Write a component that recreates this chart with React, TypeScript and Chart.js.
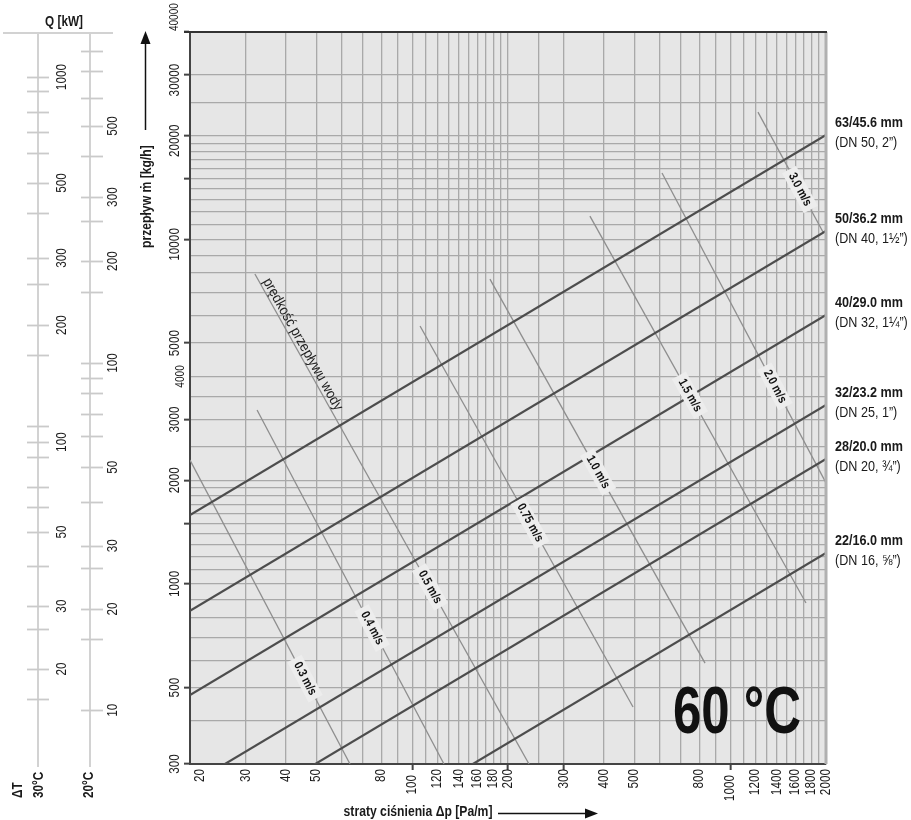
import React, { useEffect, useRef } from "react";
import { Chart, registerables } from "chart.js";
Chart.register(...registerables);

// ---- axis grid / tick data ----
const xGridValues = [20, 30, 40, 50, 60, 70, 80, 90, 100, 110, 120, 130, 140, 150, 160, 170, 180, 190, 200, 250, 300, 400, 500, 600, 700, 800, 900, 1000, 1100, 1200, 1300, 1400, 1500, 1600, 1700, 1800, 1900, 2000];
const xTickLabels = [20, 30, 40, 50, 80, 100, 120, 140, 160, 180, 200, 300, 400, 500, 800, 1000, 1200, 1400, 1600, 1800, 2000];
const xTickMarks = [100, 200, 300, 1000];
const yGridValues = [300, 400, 500, 600, 700, 800, 900, 1000, 1100, 1200, 1300, 1400, 1500, 1600, 1700, 1800, 1900, 2000, 2500, 3000, 3500, 4000, 5000, 6000, 7000, 8000, 9000, 10000, 11000, 12000, 13000, 14000, 15000, 16000, 17000, 18000, 19000, 20000, 25000, 30000, 40000];
const yTickLabels = [300, 500, 1000, 2000, 3000, 4000, 5000, 10000, 20000, 30000, 40000];
const yTickMarks = [300, 500, 1000, 1500, 2000, 3000, 5000, 10000, 15000, 20000, 30000, 40000];

// ---- pipe lines (flow in kg/h at 20 Pa/m and at 2000 Pa/m) ----
const pipeNames = ["63/45.6 mm", "50/36.2 mm", "40/29.0 mm", "32/23.2 mm", "28/20.0 mm", "22/16.0 mm"];
const pipeSizes = ["(DN 50, 2\u201D)", "(DN 40, 1\u00BD\u201D)", "(DN 32, 1\u00BC\u201D)", "(DN 25, 1\u201D)", "(DN 20, \u00BE\u201D)", "(DN 16, \u215D\u201D)"];
const pipeFlowAt20 = [1585, 835, 476, 261, 182, 97];
const pipeFlowAt2000 = [20085, 10578, 6033, 3306, 2304, 1229];

// ---- water velocity lines ----
const velNames = ["0.3 m/s", "0.4 m/s", "0.5 m/s", "0.75 m/s", "1.0 m/s", "1.5 m/s", "2.0 m/s", "3.0 m/s"];
const velStartDp = [20, 32.5, 32.0, 105.8, 175.5, 362, 610, 1222];
const velStartFlow = [2288, 3197, 7935, 5604, 7671, 11688, 15582, 23420];
const velEndDp = [63.7, 125.8, 232.8, 494.6, 833, 1730, 2000, 1957];
const velEndFlow = [300, 300, 300, 439, 589, 880, 1963, 10505];
const velLabelDp = [46, 74.8, 113.7, 234.6, 383.8, 747, 1382, 1656];

// ---- heat output scales (Q in kW and matching flow in kg/h) ----
const q30Values = [1000, 900, 800, 700, 600, 500, 400, 300, 250, 200, 150, 110, 100, 90, 70, 60, 50, 40, 30, 25, 20, 15];
const q30Flow = [29600, 26960, 23420, 20500, 17810, 14580, 11930, 8830, 7420, 5640, 4620, 2870, 2580, 2335, 1910, 1670, 1415, 1127, 862, 740, 566, 463];
const q30Labels = [1000, 500, 300, 200, 100, 50, 30, 20];
const q20Values = [800, 700, 600, 500, 400, 300, 250, 200, 150, 100, 90, 80, 70, 60, 50, 40, 30, 25, 20, 15, 10];
const q20Flow = [35220, 30810, 25730, 21340, 17460, 13270, 11310, 8650, 7030, 4380, 3960, 3580, 3110, 2690, 2180, 1730, 1290, 1110, 845, 690, 430];
const q20Labels = [500, 300, 200, 100, 50, 30, 20, 10];

const FONT = '"Liberation Sans", Arial, sans-serif';

type TOpts = { size: number; bold?: boolean; align?: CanvasTextAlign; baseline?: CanvasTextBaseline; rot?: number; sq?: number; color?: string };
function drawText(ctx: CanvasRenderingContext2D, s: string, x: number, y: number, o: TOpts) {
  ctx.save();
  ctx.translate(x, y);
  if (o.rot) ctx.rotate(o.rot);
  ctx.scale(o.sq ?? 0.84, 1);
  ctx.font = `${o.bold ? "bold " : ""}${o.size}px ${FONT}`;
  ctx.textAlign = o.align ?? "left";
  ctx.textBaseline = o.baseline ?? "middle";
  ctx.fillStyle = o.color ?? "#1a1a1a";
  ctx.fillText(s, 0, 0);
  ctx.restore();
}
function textWidth(ctx: CanvasRenderingContext2D, s: string, size: number, bold: boolean, sq: number) {
  ctx.save();
  ctx.font = `${bold ? "bold " : ""}${size}px ${FONT}`;
  const w = ctx.measureText(s).width * sq;
  ctx.restore();
  return w;
}

const decor = {
  id: "decor",
  beforeDraw(chart: any) {
    const { ctx, chartArea: a } = chart;
    ctx.save();
    ctx.fillStyle = "#e6e6e6";
    ctx.fillRect(a.left, a.top, a.right - a.left, a.bottom - a.top);
    ctx.restore();
  },
  afterDatasetsDraw(chart: any) {
    const { ctx } = chart;
    const xs = chart.scales.x, ys = chart.scales.y;
    velNames.forEach((name, i) => {
      const x1 = xs.getPixelForValue(velStartDp[i]), y1 = ys.getPixelForValue(velStartFlow[i]);
      const x2 = xs.getPixelForValue(velEndDp[i]), y2 = ys.getPixelForValue(velEndFlow[i]);
      const lx = xs.getPixelForValue(velLabelDp[i]);
      const t = (lx - x1) / (x2 - x1);
      const ly = y1 + t * (y2 - y1);
      const ang = Math.atan2(y2 - y1, x2 - x1);
      const w = textWidth(ctx, name, 12.5, true, 0.84);
      ctx.save();
      ctx.translate(lx, ly);
      ctx.rotate(ang);
      ctx.fillStyle = "#ededed";
      ctx.fillRect(-w / 2 - 5, -8, w + 10, 16);
      ctx.restore();
      drawText(ctx, name, lx, ly, { size: 12.5, bold: true, align: "center", rot: ang, color: "#111" });
      if (i === 2) {
        const d = 10;
        const px = x1 + Math.cos(ang) * d, py = y1 + Math.sin(ang) * d;
        drawText(ctx, "prędkość przepływu wody", px, py, { size: 14.5, align: "left", baseline: "bottom", rot: ang, sq: 0.9, color: "#222" });
      }
    });
  },
  afterDraw(chart: any) {
    const { ctx, chartArea: a } = chart;
    const xs = chart.scales.x, ys = chart.scales.y;
    ctx.save();
    ctx.strokeStyle = "#b0b0b0";
    ctx.lineWidth = 3;
    ctx.beginPath(); ctx.moveTo(a.right, a.top); ctx.lineTo(a.right, a.bottom); ctx.stroke();
    ctx.strokeStyle = "#333";
    ctx.lineWidth = 2;
    ctx.beginPath(); ctx.moveTo(a.left - 6, a.top); ctx.lineTo(a.right + 1, a.top); ctx.stroke();
    ctx.restore();

    yTickLabels.forEach((v) => {
      const y = ys.getPixelForValue(v);
      if (v === 40000) drawText(ctx, String(v), 175, y - 1, { size: 12.5, align: "left", rot: -Math.PI / 2, sq: 0.8 });
      else if (v === 4000) drawText(ctx, String(v), 181, y, { size: 12, align: "center", rot: -Math.PI / 2 });
      else drawText(ctx, String(v), 175, y + (v >= 10000 ? 5 : 0), { size: 14, align: "center", rot: -Math.PI / 2 });
    });
    xTickLabels.forEach((v) => {
      let x = xs.getPixelForValue(v);
      if (v === 20) x += 10;
      const y = v === 100 || v === 1000 ? a.bottom + 11 : a.bottom + 5;
      drawText(ctx, String(v), x, y, { size: 14, align: "right", rot: -Math.PI / 2 });
    });

    drawText(ctx, "straty ciśnienia Δp [Pa/m]", 418, 812, { size: 14.5, bold: true, align: "center" });
    ctx.save();
    ctx.strokeStyle = "#111"; ctx.fillStyle = "#111"; ctx.lineWidth = 1.5;
    ctx.beginPath(); ctx.moveTo(498, 813.5); ctx.lineTo(588, 813.5); ctx.stroke();
    ctx.beginPath(); ctx.moveTo(598, 813.5); ctx.lineTo(585, 808.5); ctx.lineTo(585, 818.5); ctx.closePath(); ctx.fill();
    ctx.beginPath(); ctx.moveTo(145.5, 130); ctx.lineTo(145.5, 42); ctx.stroke();
    ctx.beginPath(); ctx.moveTo(145.5, 31); ctx.lineTo(140.5, 44); ctx.lineTo(150.5, 44); ctx.closePath(); ctx.fill();
    ctx.restore();
    drawText(ctx, "przepływ ṁ [kg/h]", 147, 248, { size: 14.5, bold: true, align: "left", rot: -Math.PI / 2 });

    pipeNames.forEach((n, i) => {
      const y = ys.getPixelForValue(pipeFlowAt2000[i]);
      drawText(ctx, n, 835, y - 12, { size: 15, bold: true });
      drawText(ctx, pipeSizes[i], 835, y + 8, { size: 15 });
    });

    ctx.save();
    ctx.font = `bold 66px ${FONT}`;
    const tw = ctx.measureText("60 °C").width;
    ctx.translate(673, 713);
    ctx.scale(128 / tw, 1);
    ctx.fillStyle = "#111";
    ctx.textAlign = "left";
    ctx.textBaseline = "middle";
    ctx.fillText("60 °C", 0, 2);
    ctx.restore();

    const topY = ys.getPixelForValue(40000);
    ctx.save();
    ctx.strokeStyle = "#d2d2d2";
    ctx.lineWidth = 2;
    ctx.beginPath(); ctx.moveTo(3, topY + 1); ctx.lineTo(113, topY + 1); ctx.stroke();
    ctx.beginPath(); ctx.moveTo(38, topY + 1); ctx.lineTo(38, 767); ctx.stroke();
    ctx.beginPath(); ctx.moveTo(90, topY + 1); ctx.lineTo(90, 767); ctx.stroke();
    ctx.lineWidth = 1.8;
    ctx.strokeStyle = "#cacaca";
    q30Flow.forEach((f) => {
      const y = Math.round(ys.getPixelForValue(f)) + 0.5;
      ctx.beginPath(); ctx.moveTo(27, y); ctx.lineTo(49, y); ctx.stroke();
    });
    q20Flow.forEach((f) => {
      const y = Math.round(ys.getPixelForValue(f)) + 0.5;
      ctx.beginPath(); ctx.moveTo(81, y); ctx.lineTo(103, y); ctx.stroke();
    });
    ctx.restore();
    q30Labels.forEach((q) => {
      const f = q30Flow[q30Values.indexOf(q)];
      drawText(ctx, String(q), 62, ys.getPixelForValue(f), { size: 14, align: "center", rot: -Math.PI / 2 });
    });
    q20Labels.forEach((q) => {
      const f = q20Flow[q20Values.indexOf(q)];
      drawText(ctx, String(q), 113, ys.getPixelForValue(f), { size: 14, align: "center", rot: -Math.PI / 2 });
    });
    drawText(ctx, "Q [kW]", 64, 22, { size: 14, bold: true, align: "center" });
    drawText(ctx, "ΔT", 18, 798, { size: 14, bold: true, align: "left", rot: -Math.PI / 2 });
    drawText(ctx, "30°C", 39, 798, { size: 14, bold: true, align: "left", rot: -Math.PI / 2 });
    drawText(ctx, "20°C", 89, 798, { size: 14, bold: true, align: "left", rot: -Math.PI / 2 });
  },
};

export default function App() {
  const ref = useRef<HTMLCanvasElement>(null);
  useEffect(() => {
    const canvas = ref.current!;
    const pipeDatasets = pipeNames.map((n, i) => ({
      label: n,
      data: [{ x: 20, y: pipeFlowAt20[i] }, { x: 2000, y: pipeFlowAt2000[i] }],
      showLine: true,
      borderColor: "#4d4d4d",
      borderWidth: 2.2,
      pointRadius: 0,
      order: 1,
    }));
    const velDatasets = velNames.map((n, i) => ({
      label: n,
      data: [{ x: velStartDp[i], y: velStartFlow[i] }, { x: velEndDp[i], y: velEndFlow[i] }],
      showLine: true,
      borderColor: "#8e8e8e",
      borderWidth: 1.3,
      pointRadius: 0,
      order: 2,
    }));
    const chart = new Chart(canvas, {
      type: "scatter",
      data: { datasets: [...pipeDatasets, ...velDatasets] as any },
      options: {
        responsive: false,
        animation: false,
        events: [],
        layout: { padding: { left: 150, right: 85, top: 32, bottom: 0 } },
        plugins: { legend: { display: false }, tooltip: { enabled: false } },
        scales: {
          x: {
            type: "logarithmic",
            position: "bottom",
            min: 20,
            max: 2000,
            afterBuildTicks: (s: any) => { s.ticks = xGridValues.map((v) => ({ value: v })); },
            afterFit: (s: any) => { s.height = 56; },
            ticks: { display: false },
            grid: {
              color: "#a9a9a9",
              lineWidth: 1.3,
              tickLength: 6,
              tickWidth: 2,
              tickColor: (c: any) => (xTickMarks.includes(c.tick?.value) ? "#444" : "rgba(0,0,0,0)"),
            },
            border: { color: "#444", width: 2 },
          },
          y: {
            type: "logarithmic",
            position: "left",
            min: 300,
            max: 40000,
            afterBuildTicks: (s: any) => { s.ticks = yGridValues.map((v) => ({ value: v })); },
            afterFit: (s: any) => { s.width = 40; },
            ticks: { display: false },
            grid: {
              color: "#a9a9a9",
              lineWidth: 1.3,
              tickLength: 6,
              tickWidth: 2,
              tickColor: (c: any) => (yTickMarks.includes(c.tick?.value) ? "#444" : "rgba(0,0,0,0)"),
            },
            border: { color: "#444", width: 2 },
          },
        },
      },
      plugins: [decor],
    } as any);
    return () => chart.destroy();
  }, []);
  return (
    <div style={{ position: "absolute", left: 0, top: 0, width: 911, height: 820, background: "#fff" }}>
      <canvas ref={ref} width={911} height={820} style={{ display: "block" }} />
    </div>
  );
}
